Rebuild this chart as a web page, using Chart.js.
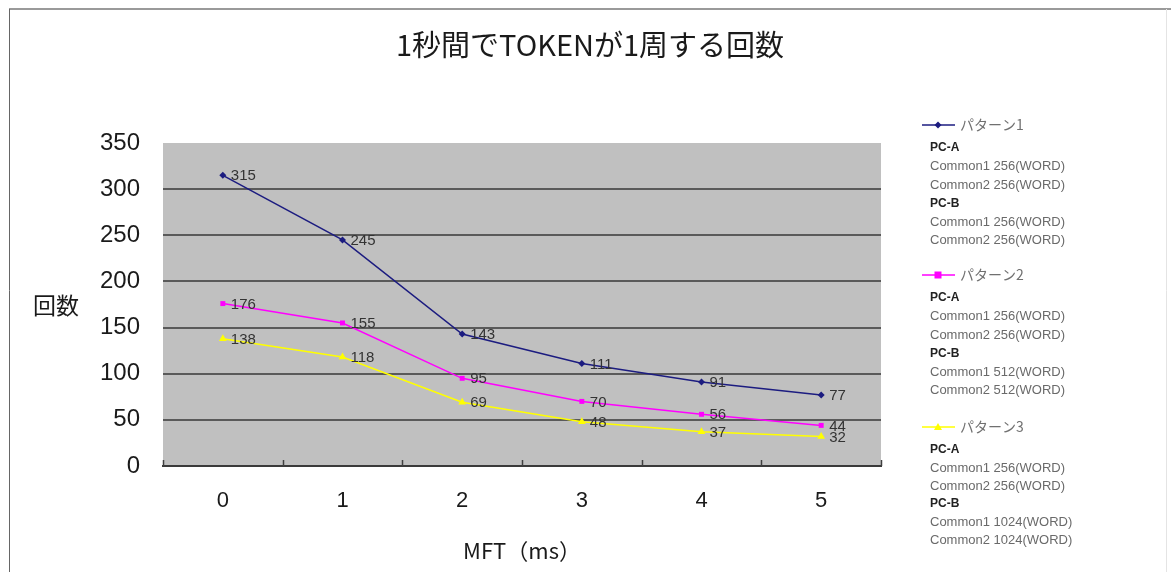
<!DOCTYPE html>
<html lang="ja">
<head>
<meta charset="utf-8">
<title>1秒間でTOKENが1周する回数</title>
<script src="https://cdn.jsdelivr.net/npm/chart.js@4.4.1/dist/chart.umd.min.js"></script>
<style>
  html, body { margin: 0; padding: 0; background: #ffffff; }
  #wrap { position: relative; width: 1171px; height: 572px; }
</style>
</head>
<body>
<div id="wrap"><canvas id="c" width="1171" height="572"></canvas></div>
<script>
// MFT setting (ms) on the horizontal axis
const categories = ['0', '1', '2', '3', '4', '5'];
const yTicks = [0, 50, 100, 150, 200, 250, 300, 350];

// token rotations per second for each pattern
const pattern1 = [315, 245, 143, 111, 91, 77];
const pattern2 = [176, 155, 95, 70, 56, 44];
const pattern3 = [138, 118, 69, 48, 37, 32];

const seriesNames = ['パターン1', 'パターン2', 'パターン3'];

// PC buffer settings shown under each legend entry
const pattern1Notes = ['PC-A', 'Common1 256(WORD)', 'Common2 256(WORD)', 'PC-B', 'Common1 256(WORD)', 'Common2 256(WORD)'];
const pattern2Notes = ['PC-A', 'Common1 256(WORD)', 'Common2 256(WORD)', 'PC-B', 'Common1 512(WORD)', 'Common2 512(WORD)'];
const pattern3Notes = ['PC-A', 'Common1 256(WORD)', 'Common2 256(WORD)', 'PC-B', 'Common1 1024(WORD)', 'Common2 1024(WORD)'];

const titleText = '1秒間でTOKENが1周する回数';
const yTitleText = '回数';
const xTitleText = 'MFT（ms）';

const JP = '"Noto Sans CJK JP", "Noto Sans", sans-serif';
const LAT = '"Liberation Sans", Arial, sans-serif';

const colors = ['#1c1c80', '#ff00ff', '#ffff00'];
const markers = ['rectRot', 'rect', 'triangle'];
const notes = [pattern1Notes, pattern2Notes, pattern3Notes];
const values = [pattern1, pattern2, pattern3];

// background frame, plot fill, title, horizontal y caption
const framePlugin = {
  id: 'frame',
  beforeDraw(chart) {
    const { ctx, chartArea: a } = chart;
    ctx.save();
    ctx.fillStyle = '#ffffff';
    ctx.fillRect(0, 0, chart.width, chart.height);
    // outer frame
    ctx.strokeStyle = '#9a9a9a';
    ctx.lineWidth = 2;
    ctx.beginPath();
    ctx.moveTo(9, 9); ctx.lineTo(chart.width, 9);
    ctx.stroke();
    ctx.strokeStyle = '#666666';
    ctx.lineWidth = 1;
    ctx.beginPath();
    ctx.moveTo(9.5, 9); ctx.lineTo(9.5, chart.height);
    ctx.stroke();
    ctx.strokeStyle = '#e4e4e4';
    ctx.beginPath();
    ctx.moveTo(1166.5, 9); ctx.lineTo(1166.5, chart.height);
    ctx.stroke();
    // plot area fill
    ctx.fillStyle = '#c0c0c0';
    ctx.fillRect(a.left, a.top, a.right - a.left, a.bottom - a.top);
    // title
    ctx.fillStyle = '#1a1a1a';
    ctx.font = '29px ' + JP;
    ctx.textAlign = 'center';
    ctx.textBaseline = 'middle';
    ctx.fillText(titleText, 590, 45);
    // y caption, written horizontally
    ctx.font = '23px ' + JP;
    ctx.fillStyle = '#1a1a1a';
    ctx.fillText(yTitleText, 56, 305);
    ctx.restore();
  },
  afterDatasetsDraw(chart) {
    const { ctx } = chart;
    const a = chart.chartArea;
    ctx.save();
    // category boundary tick marks rising from the x axis
    ctx.strokeStyle = '#404040';
    ctx.lineWidth = 1.5;
    const n = categories.length;
    const w = (a.right - a.left) / n;
    for (let i = 0; i <= n; i++) {
      const px = Math.round(a.left + i * w) + 0.5;
      ctx.beginPath();
      ctx.moveTo(px, a.bottom);
      ctx.lineTo(px, a.bottom - 6);
      ctx.stroke();
    }
    // value labels to the right of each point
    ctx.font = '15px ' + LAT;
    ctx.fillStyle = '#333333';
    ctx.textAlign = 'left';
    ctx.textBaseline = 'middle';
    chart.data.datasets.forEach((ds, di) => {
      const meta = chart.getDatasetMeta(di);
      meta.data.forEach((pt, i) => {
        ctx.fillText(String(ds.data[i]), pt.x + 8, pt.y + 1);
      });
    });
    ctx.restore();
  },
  afterDraw(chart) {
    // legend with per-pattern buffer notes
    const { ctx } = chart;
    const starts = [125, 275, 427];
    const lineGap = [18.5, 18.5, 18];
    ctx.save();
    starts.forEach((y0, si) => {
      ctx.strokeStyle = colors[si];
      ctx.lineWidth = 1.5;
      ctx.beginPath();
      ctx.moveTo(922, y0); ctx.lineTo(955, y0);
      ctx.stroke();
      ctx.fillStyle = colors[si];
      ctx.beginPath();
      if (si === 0) {
        ctx.moveTo(938, y0 - 3.5); ctx.lineTo(941.5, y0); ctx.lineTo(938, y0 + 3.5); ctx.lineTo(934.5, y0);
      } else if (si === 1) {
        ctx.rect(934.5, y0 - 3.5, 7, 7);
      } else {
        ctx.moveTo(938, y0 - 4); ctx.lineTo(942, y0 + 3); ctx.lineTo(934, y0 + 3);
      }
      ctx.closePath();
      ctx.fill();
      ctx.fillStyle = '#707070';
      ctx.font = '14px ' + JP;
      ctx.textAlign = 'left';
      ctx.textBaseline = 'middle';
      ctx.fillText(seriesNames[si], 960, y0);
      let y = y0 + 23;
      notes[si].forEach((t) => {
        if (t.startsWith('PC')) {
          ctx.font = 'bold 12px ' + LAT;
          ctx.fillStyle = '#222222';
        } else {
          ctx.font = '13px ' + LAT;
          ctx.fillStyle = '#6a6a6a';
        }
        ctx.fillText(t, 930, y);
        y += lineGap[si];
      });
    });
    ctx.restore();
  }
};

const ctx = document.getElementById('c').getContext('2d');
new Chart(ctx, {
  type: 'line',
  data: {
    labels: categories,
    datasets: values.map((v, i) => ({
      label: seriesNames[i],
      data: v,
      borderColor: colors[i],
      backgroundColor: colors[i],
      borderWidth: 1.5,
      pointStyle: markers[i],
      pointRadius: i === 2 ? 4.5 : 3.5,
      pointBorderWidth: 0,
      tension: 0,
      fill: false
    }))
  },
  options: {
    responsive: false,
    animation: false,
    layout: { padding: { top: 143, right: 290, left: 0, bottom: 0 } },
    plugins: {
      legend: { display: false },
      title: { display: false },
      tooltip: { enabled: false }
    },
    scales: {
      x: {
        type: 'category',
        offset: true,
        grid: { display: false, drawTicks: false },
        border: { display: true, color: '#3a3a3a', width: 2 },
        ticks: {
          padding: 22,
          color: '#1a1a1a',
          font: { family: LAT, size: 22 },
          maxRotation: 0
        },
        title: {
          display: true,
          text: xTitleText,
          color: '#1a1a1a',
          font: { family: JP, size: 22 },
          padding: { top: 0, bottom: 8 }
        },
        afterFit(scale) { scale.height = 106; }
      },
      y: {
        min: 0,
        max: 350,
        afterBuildTicks(scale) { scale.ticks = yTicks.map(v => ({ value: v })); },
        grid: {
          drawTicks: false,
          lineWidth: 2,
          color: (c) => (c.tick && (c.tick.value === 350 || c.tick.value === 0)) ? 'rgba(0,0,0,0)' : '#5a5a5a'
        },
        border: { display: false },
        ticks: {
          padding: 23,
          color: '#1a1a1a',
          font: { family: LAT, size: 24 }
        },
        afterFit(scale) { scale.width = 163; }
      }
    }
  },
  plugins: [framePlugin]
});
</script>
</body>
</html>
